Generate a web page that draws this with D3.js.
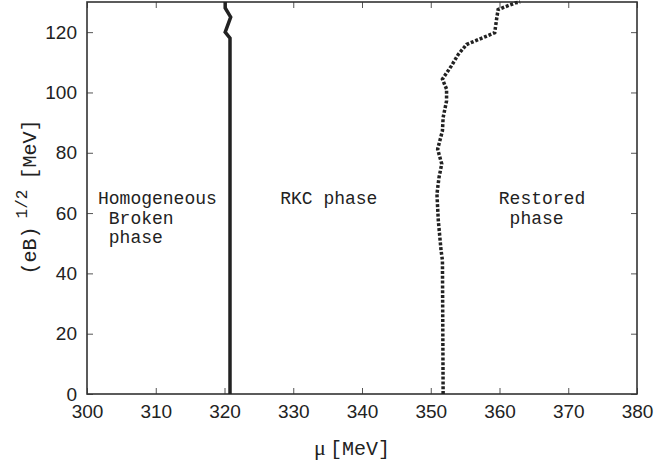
<html>
<head>
<script src="https://d3js.org/d3.v7.min.js"></script>
<style>
  body { margin: 0; background: #fff; }
  svg text { fill: #222; }
</style>
</head>
<body>
<script>
// chart values
const xTicks = [300, 310, 320, 330, 340, 350, 360, 370, 380];
const yTicks = [0, 20, 40, 60, 80, 100, 120];

// solid boundary: homogeneous broken | RKC  (mu, sqrt(eB))
const solidMu = [320.8, 320.8, 320.1, 320.9, 320.1, 320.1];
const solidEB = [0, 118, 120, 125, 128, 130];

// dotted boundary: RKC | restored
const dotMu = [351.8, 351.7, 351.5, 351.1, 350.9, 351.2, 351.6, 351.0, 351.7, 351.8, 352.3, 352.3, 351.7, 353.0, 354.0, 355.2, 359.3, 359.6, 359.8, 362.3, 363.0];
const dotEB = [0, 44.3, 47.6, 57.5, 66.3, 71.8, 76.3, 81.2, 87.3, 91.7, 97.2, 101.1, 104.4, 108.8, 112.6, 115.9, 119.8, 124.7, 127.5, 129.7, 130];

const regionLabels = [
  {mu: 301.6, eb: 63, lines: ["Homogeneous", " Broken", " phase"]},
  {mu: 328.1, eb: 63, lines: ["RKC phase"]},
  {mu: 359.9, eb: 63, lines: ["Restored", " phase"]}
];

const W = 657, H = 466;
const mLeft = 87, mRight = 637, mTop = 2, mBottom = 394;

const x = d3.scaleLinear().domain([300, 380]).range([mLeft, mRight]);
const y = d3.scaleLinear().domain([0, 130]).range([mBottom, mTop]);

const svg = d3.select('body').append('svg')
  .attr('width', W).attr('height', H);

// ticks, inward on all four sides
const gB = svg.append('g').attr('transform', `translate(0,${mBottom})`)
  .call(d3.axisBottom(x).tickValues(xTicks).tickSize(-6).tickPadding(11));
const gL = svg.append('g').attr('transform', `translate(${mLeft},0)`)
  .call(d3.axisLeft(y).tickValues(yTicks).tickSize(-6).tickPadding(10));
const gT = svg.append('g').attr('transform', `translate(0,${mTop})`)
  .call(d3.axisTop(x).tickValues(xTicks).tickSize(-6).tickFormat(''));
const gR = svg.append('g').attr('transform', `translate(${mRight},0)`)
  .call(d3.axisRight(y).tickValues(yTicks).tickSize(-6).tickFormat(''));

[gB, gL, gT, gR].forEach(g => {
  g.select('.domain').remove();
  g.selectAll('.tick line').attr('stroke', '#555').attr('stroke-width', 1);
  g.selectAll('.tick text')
    .style('font-family', '"Liberation Sans", Arial, sans-serif')
    .style('font-size', '19px')
    .attr('fill', '#222');
});

// frame
svg.append('rect')
  .attr('x', mLeft).attr('y', mTop)
  .attr('width', mRight - mLeft).attr('height', mBottom - mTop)
  .attr('fill', 'none').attr('stroke', '#333').attr('stroke-width', 1.6);

const line = d3.line().x(d => x(d[0])).y(d => y(d[1]));

svg.append('path')
  .datum(solidMu.map((m, i) => [m, solidEB[i]]))
  .attr('d', line)
  .attr('fill', 'none').attr('stroke', '#222').attr('stroke-width', 3.5);

svg.append('path')
  .datum(dotMu.map((m, i) => [m, dotEB[i]]))
  .attr('d', line)
  .attr('fill', 'none').attr('stroke', '#222').attr('stroke-width', 3.5)
  .attr('stroke-dasharray', '3,1.8');

// region labels
regionLabels.forEach(r => {
  const t = svg.append('text')
    .attr('x', x(r.mu)).attr('y', y(r.eb))
    .style('font-family', '"Liberation Mono", "Courier New", monospace')
    .style('font-size', '18px')
    .style('white-space', 'pre')
    .attr('xml:space', 'preserve');
  r.lines.forEach((l, i) => {
    t.append('tspan').attr('x', x(r.mu)).attr('dy', i === 0 ? 0 : 19.5).text(l);
  });
});

// axis titles
const xt = svg.append('text')
  .attr('x', 352).attr('y', 455)
  .attr('text-anchor', 'middle')
  .style('font-family', '"Liberation Mono", "Courier New", monospace')
  .style('font-size', '20px');
xt.append('tspan').style('font-family', '"Liberation Serif", serif').style('font-size', '22px').text('μ');
xt.append('tspan').attr('dx', 4).text('[MeV]');

const yt = svg.append('text')
  .attr('transform', 'translate(36,197) rotate(-90)')
  .attr('text-anchor', 'middle')
  .style('font-family', '"Liberation Mono", "Courier New", monospace')
  .style('font-size', '20px');
yt.append('tspan').text('(eB)');
yt.append('tspan').attr('dy', -9).attr('dx', 8).style('font-size', '16px').text('1/2');
yt.append('tspan').attr('dy', 9).attr('dx', 10).text('[MeV]');
</script>
</body>
</html>
